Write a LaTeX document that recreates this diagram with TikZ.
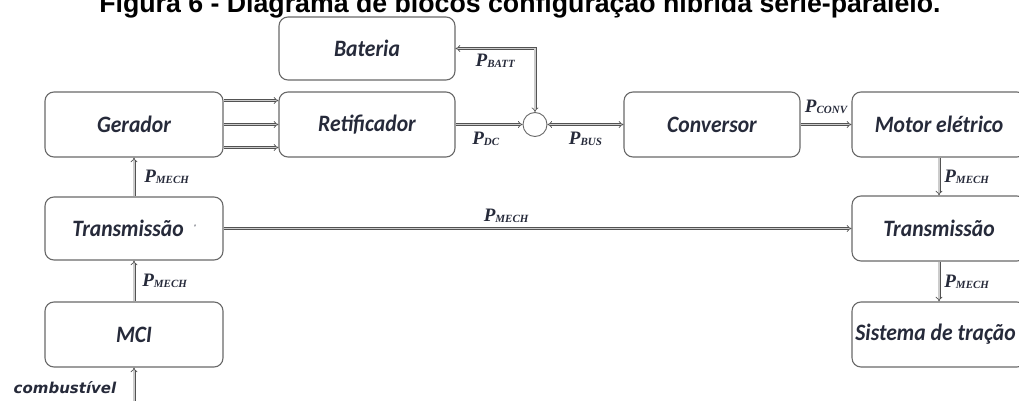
\documentclass[tikz,border=0pt]{standalone}
\usepackage{fontspec}
\usepackage{tikz}
\usetikzlibrary{positioning, arrows.meta}
\newfontfamily\boxfont{Carlito}
\newfontfamily\pfont{Liberation Serif}
\newfontfamily\titlefont{Liberation Sans}
\newfontfamily\fuelfont{DejaVu Sans}
\definecolor{txtcol}{RGB}{38,42,58}
\definecolor{boxcol}{RGB}{105,105,105}
\newcommand{\pw}[1]{{\pfont\bfseries\itshape\fontsize{19}{19}\selectfont P\raisebox{-1pt}{\fontsize{11}{11}\selectfont #1}}}
\newcommand{\boxtxt}[1]{\scalebox{0.92}[1]{#1}}

\begin{document}
\begin{tikzpicture}[
    x=1pt, y=1pt,
    on grid,
    block/.style={draw=boxcol, line width=1.1pt, rounded corners=9pt, minimum width=176pt, minimum height=65pt, font=\boxfont\bfseries\itshape\fontsize{23.5}{24}\selectfont, text=txtcol},
    pline/.style={draw=gray!65!black, double=gray!40, double distance=1.6pt, line width=0.7pt},
    plabel/.style={inner sep=2pt, text=txtcol}
]
    \useasboundingbox (0,0) rectangle (1019,-401);
    % Define nodes
    \node[font=\titlefont\bfseries\fontsize{26.7}{27}\selectfont, anchor=base] (titulo) at (520,-13) {Figura 6 - Diagrama de blocos configuração híbrida série-paralelo.};
    \node[block, minimum width=178pt] (gerador) at (134,-124.5) {\boxtxt{Gerador}};
    \node[block, right=233pt of gerador] (retif) {\boxtxt{Retificador}};
    \node[block, minimum height=63pt, above=76pt of retif] (bateria) {\boxtxt{Bateria}};
    \node[circle, draw=boxcol, line width=0.9pt, minimum size=24pt, inner sep=0pt, right=168pt of retif] (juncao) {};
    \node[block, right=345pt of retif] (conversor) {\boxtxt{Conversor}};
    \node[block, minimum width=174pt, right=227pt of conversor] (motor) {\boxtxt{Motor elétrico}};
    \node[block, minimum width=178pt, minimum height=63pt, below=104pt of gerador] (transE) {\boxtxt{Transmissão}\hspace{10pt}\raisebox{6pt}{\fontsize{8}{8}\selectfont '}};
    \node[block, minimum width=178pt, below=106pt of transE] (mci) {\boxtxt{MCI}};
    \node[block, minimum width=174pt, below=104pt of motor] (transD) {\boxtxt{Transmissão}};
    \node[block, minimum width=174pt, below=106pt of transD] (tracao) {\boxtxt{Sistema de tração}\hspace*{7pt}};
    \coordinate[below=75pt of mci] (combust);
    \node[font=\fuelfont\bfseries\itshape\fontsize{15}{15}\selectfont, text=txtcol] (combtxt) at (65,-388) {combustível};

    % Connectors
    \foreach \dy in {24,0,-23}
        \draw[pline, -{Implies}] ([yshift=\dy pt]gerador.east) -- ([yshift=\dy pt]retif.west);
    \draw[pline, -{Implies}] (retif) -- node[plabel, below, pos=0.45, yshift=-5pt] {\pw{DC}} (juncao);
    \draw[pline, {Implies}-{Implies}] (juncao) -- node[plabel, below, yshift=-5pt] {\pw{BUS}} (conversor);
    \draw[pline, {Implies}-{Implies}] (juncao) |- node[plabel, below, pos=0.75, yshift=-3pt] {\pw{BATT}} (bateria);
    \draw[pline, -{Implies}] (conversor) -- node[plabel, above, yshift=8pt] {\pw{CONV}} (motor);
    \draw[pline, -{Implies}] (transE) -- node[plabel, right, xshift=8pt] {\pw{MECH}} (gerador);
    \draw[pline, -{Implies}] (mci) -- node[plabel, right, xshift=6pt] {\pw{MECH}} (transE);
    \draw[pline, -{Implies}] (combust) -- (mci);
    \draw[pline, -{Implies}] (transE) -- node[plabel, above, pos=0.45, yshift=4pt] {\pw{MECH}} (transD);
    \draw[pline, -{Implies}] (motor) -- node[plabel, right, xshift=3pt] {\pw{MECH}} (transD);
    \draw[pline, -{Implies}] (transD) -- node[plabel, right, xshift=3pt] {\pw{MECH}} (tracao);
\end{tikzpicture}
\end{document}
